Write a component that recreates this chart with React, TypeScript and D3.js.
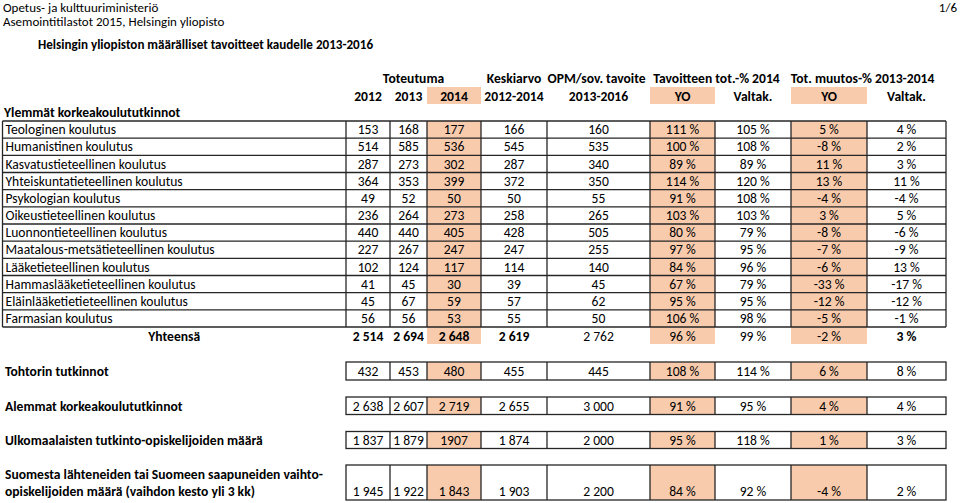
import React, { useEffect, useRef } from 'react';
import * as d3 from 'd3';

// --- data ---
const columnKeys = ['y2012', 'y2013', 'y2014', 'avg', 'target', 'totYO', 'totVal', 'chgYO', 'chgVal'];
const groupHeaders = ['Toteutuma', 'Keskiarvo', 'OPM/sov. tavoite', 'Tavoitteen tot.-% 2014', 'Tot. muutos-% 2013-2014'];
const subHeaders = ['2012', '2013', '2014', '2012-2014', '2013-2016', 'YO', 'Valtak.', 'YO', 'Valtak.'];
const highlightCols = [2, 5, 7];
const percentCols = [5, 6, 7, 8];

const sectionTitle = 'Ylemmät korkeakoulututkinnot';
const fields = [
  'Teologinen koulutus',
  'Humanistinen koulutus',
  'Kasvatustieteellinen koulutus',
  'Yhteiskuntatieteellinen koulutus',
  'Psykologian koulutus',
  'Oikeustieteellinen koulutus',
  'Luonnontieteellinen koulutus',
  'Maatalous-metsätieteellinen koulutus',
  'Lääketieteellinen koulutus',
  'Hammaslääketieteellinen koulutus',
  'Eläinlääketietieteellinen koulutus',
  'Farmasian koulutus',
];
const fieldValues = [
  [153, 168, 177, 166, 160, 111, 105, 5, 4],
  [514, 585, 536, 545, 535, 100, 108, -8, 2],
  [287, 273, 302, 287, 340, 89, 89, 11, 3],
  [364, 353, 399, 372, 350, 114, 120, 13, 11],
  [49, 52, 50, 50, 55, 91, 108, -4, -4],
  [236, 264, 273, 258, 265, 103, 103, 3, 5],
  [440, 440, 405, 428, 505, 80, 79, -8, -6],
  [227, 267, 247, 247, 255, 97, 95, -7, -9],
  [102, 124, 117, 114, 140, 84, 96, -6, 13],
  [41, 45, 30, 39, 45, 67, 79, -33, -17],
  [45, 67, 59, 57, 62, 95, 95, -12, -12],
  [56, 56, 53, 55, 50, 106, 98, -5, -1],
];
const totalLabel = 'Yhteensä';
const totalValues = [2514, 2694, 2648, 2619, 2762, 96, 99, -2, 3];
const totalBoldCols = [0, 1, 2, 3, 8];

const extraLabels = [
  ['Tohtorin tutkinnot'],
  ['Alemmat korkeakoulututkinnot'],
  ['Ulkomaalaisten tutkinto-opiskelijoiden määrä'],
  ['Suomesta lähteneiden tai Suomeen saapuneiden vaihto-', 'opiskelijoiden määrä (vaihdon kesto yli 3 kk)'],
];
const extraValues = [
  [432, 453, 480, 455, 445, 108, 114, 6, 8],
  [2638, 2607, 2719, 2655, 3000, 91, 95, 4, 4],
  [1837, 1879, 1907, 1874, 2000, 95, 118, 1, 3],
  [1945, 1922, 1843, 1903, 2200, 84, 92, -4, 2],
];
// cells that were typed without a thousands separator in the source
const ungroupedCells = [[2, 2]];

// --- layout ---
const W = 960;
const H = 503;
const FONT = "Carlito, Lato, 'Open Sans', sans-serif";
const FS = 13.6;
const colEdges = [346, 390, 427, 481, 547, 650, 715, 791, 867, 946];
const tableLeft = 2.5;
const HL = '#f8cbad';
const LINE = '#262626';

const fi = d3.formatLocale({ decimal: ',', thousands: '\u00a0', grouping: [3], currency: ['', ' €'] });
const fmtInt = fi.format(',d');
const fmtPct = (v: number) => `${v < 0 ? '-' : ''}${Math.abs(v)}\u00a0%`;

const App = () => {
  const svgRef = useRef<SVGSVGElement>(null);

  useEffect(() => {
    const svg = d3.select(svgRef.current);
    svg.selectAll('*').remove();
    svg.attr('font-family', FONT).attr('font-size', FS);

    const x = d3.scaleOrdinal<string, number>().domain(columnKeys).range(colEdges.slice(0, -1));
    const colW = (i: number) => colEdges[i + 1] - colEdges[i];
    const cx = (i: number) => x(columnKeys[i]) + colW(i) / 2;

    const rowY = d3.scaleLinear().domain([0, fields.length]).range([121, 327]);
    const rowH = rowY(1) - rowY(0);

    const fmtCell = (v: number, c: number, r = -1) => {
      if (percentCols.includes(c)) return fmtPct(v);
      if (ungroupedCells.some(([rr, cc]) => rr === r && cc === c)) return String(v);
      return fmtInt(v);
    };

    // page header
    svg.append('text').attr('x', 3).attr('y', 7.5).attr('dy', '0.35em').attr('font-size', 13).text('Opetus- ja kulttuuriministeriö');
    svg.append('text').attr('x', 3).attr('y', 21.5).attr('dy', '0.35em').attr('font-size', 13).text('Asemointitilastot 2015, Helsingin yliopisto');
    svg.append('text').attr('x', 957).attr('y', 7.5).attr('dy', '0.35em').attr('text-anchor', 'end').attr('font-size', 13).text('1/6');
    svg.append('text').attr('x', 38).attr('y', 44).attr('dy', '0.35em').attr('font-weight', 'bold').attr('font-size', 13.1)
      .text('Helsingin yliopiston määrälliset tavoitteet kaudelle 2013-2016');

    // column headers
    const groupSpans = [[0, 2], [3, 3], [4, 4], [5, 6], [7, 8]];
    const groupShift = [0, 0, -2, -4, -6];
    groupHeaders.forEach((h, i) => {
      const [a, b] = groupSpans[i];
      svg.append('text')
        .attr('x', (colEdges[a] + colEdges[b + 1]) / 2 + groupShift[i])
        .attr('y', 78).attr('dy', '0.35em')
        .attr('text-anchor', 'middle').attr('font-weight', 'bold')
        .text(h);
    });
    highlightCols.forEach(c => {
      svg.append('rect').attr('x', x(columnKeys[c])).attr('y', 87).attr('width', colW(c)).attr('height', 17).attr('fill', HL);
    });
    subHeaders.forEach((h, i) => {
      svg.append('text').attr('x', cx(i)).attr('y', 96).attr('dy', '0.35em')
        .attr('text-anchor', 'middle').attr('font-weight', 'bold').text(h);
    });

    svg.append('text').attr('x', 4).attr('y', 112).attr('dy', '0.35em').attr('font-weight', 'bold').text(sectionTitle);

    // main table: highlights (incl. total row)
    highlightCols.forEach(c => {
      svg.append('rect').attr('x', x(columnKeys[c])).attr('y', rowY(0))
        .attr('width', colW(c)).attr('height', rowY(fields.length) - rowY(0) + 17).attr('fill', HL);
    });

    const rows = svg.append('g').selectAll('g').data(fields).join('g')
      .attr('transform', (_, i) => `translate(0,${rowY(i)})`);
    rows.append('text').attr('x', tableLeft + 3).attr('y', rowH / 2).attr('dy', '0.35em').text(d => d);
    rows.each(function (_, r) {
      d3.select(this).selectAll('text.v').data(fieldValues[r]).join('text')
        .attr('class', 'v')
        .attr('x', (_, c) => cx(c)).attr('y', rowH / 2).attr('dy', '0.35em')
        .attr('text-anchor', 'middle')
        .text((v, c) => fmtCell(v, c));
    });

    // grid
    const grid = svg.append('g').attr('stroke', LINE).attr('stroke-width', 1.3).attr('fill', 'none');
    d3.range(fields.length + 1).forEach(i => {
      grid.append('line').attr('x1', tableLeft).attr('x2', colEdges[colEdges.length - 1]).attr('y1', rowY(i)).attr('y2', rowY(i));
    });
    [tableLeft, ...colEdges].forEach(e => {
      grid.append('line').attr('x1', e).attr('x2', e).attr('y1', rowY(0)).attr('y2', rowY(fields.length));
    });

    // total row
    const ty = rowY(fields.length) + 9;
    svg.append('text').attr('x', (tableLeft + colEdges[0]) / 2).attr('y', ty).attr('dy', '0.35em')
      .attr('text-anchor', 'middle').attr('font-weight', 'bold').text(totalLabel);
    totalValues.forEach((v, c) => {
      svg.append('text').attr('x', cx(c)).attr('y', ty).attr('dy', '0.35em')
        .attr('text-anchor', 'middle').attr('font-weight', totalBoldCols.includes(c) ? 'bold' : 'normal')
        .text(fmtCell(v, c));
    });

    // separate indicator rows
    const extraTop = [362, 397, 431.5, 465];
    const extraH = [18, 17.5, 17, 35];
    extraLabels.forEach((lines, r) => {
      const top = extraTop[r];
      const h = extraH[r];
      const g = svg.append('g');
      highlightCols.forEach(c => {
        g.append('rect').attr('x', x(columnKeys[c])).attr('y', top).attr('width', colW(c)).attr('height', h).attr('fill', HL);
      });
      const baseY = top + h - 8.5;
      lines.forEach((l, li) => {
        g.append('text').attr('x', 5).attr('y', baseY - (lines.length - 1 - li) * 17).attr('dy', '0.35em')
          .attr('font-weight', 'bold').text(l);
      });
      extraValues[r].forEach((v, c) => {
        g.append('text').attr('x', cx(c)).attr('y', baseY).attr('dy', '0.35em')
          .attr('text-anchor', 'middle').text(fmtCell(v, c, r));
      });
      const gg = g.append('g').attr('stroke', LINE).attr('stroke-width', 1.3).attr('fill', 'none');
      gg.append('rect').attr('x', colEdges[0]).attr('y', top).attr('width', colEdges[colEdges.length - 1] - colEdges[0]).attr('height', h);
      colEdges.slice(1, -1).forEach(e => {
        gg.append('line').attr('x1', e).attr('x2', e).attr('y1', top).attr('y2', top + h);
      });
    });
  }, []);

  return (
    <svg
      ref={svgRef}
      width={W}
      height={H}
      style={{ position: 'absolute', left: 0, top: 0, background: '#fff' }}
    />
  );
};

export default App;
